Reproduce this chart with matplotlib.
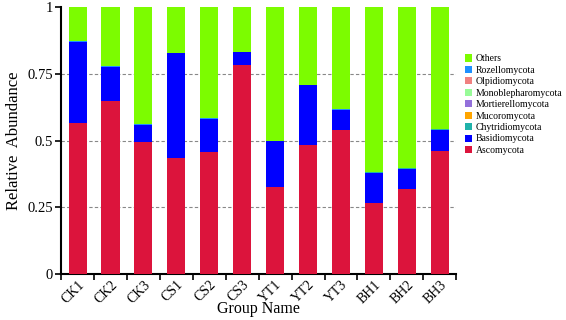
import matplotlib.pyplot as plt
import numpy as np

plt.rcParams['font.family'] = ['Liberation Serif', 'DejaVu Serif']

groups = ["CK1", "CK2", "CK3", "CS1", "CS2", "CS3", "YT1", "YT2", "YT3", "BH1", "BH2", "BH3"]

# relative abundance per phylum (bottom to top)
ascomycota = [0.565, 0.647, 0.495, 0.435, 0.459, 0.785, 0.325, 0.485, 0.541, 0.266, 0.319, 0.463]
basidiomycota = [0.305, 0.130, 0.064, 0.393, 0.123, 0.047, 0.173, 0.223, 0.074, 0.114, 0.076, 0.078]
chytridiomycota = [0.001] * 12
mucoromycota = [0.0] * 12
mortierellomycota = [0.0] * 12
monoblepharomycota = [0.0] * 12
olpidiomycota = [0.0] * 12
rozellomycota = [0.001] * 12

names = ["Ascomycota", "Basidiomycota", "Chytridiomycota", "Mucoromycota",
         "Mortierellomycota", "Monoblepharomycota", "Olpidiomycota", "Rozellomycota"]
series = [ascomycota, basidiomycota, chytridiomycota, mucoromycota,
          mortierellomycota, monoblepharomycota, olpidiomycota, rozellomycota]
others = 1 - np.sum(np.array(series), axis=0)
names.append("Others")
series.append(list(others))

colors = ["#DC143C", "#0000FF", "#20B2AA", "#FFA500", "#9370DB",
          "#98FB98", "#F08080", "#1E90FF", "#7CFC00"]

fig = plt.figure(figsize=(5.66, 3.2), dpi=100)
ax = fig.add_axes([0.108, 0.144, 0.698, 0.833])

x = np.arange(len(groups))
bottom = np.zeros(len(groups))
handles = []
for name, vals, c in zip(names, series, colors):
    b = ax.bar(x, vals, width=0.55, bottom=bottom, color=c, label=name, linewidth=0, zorder=3)
    bottom += np.array(vals)
    handles.append(b)

for yv in [0.25, 0.5, 0.75]:
    ax.axhline(yv, color="#888888", linestyle=(0, (3, 2)), linewidth=0.8, zorder=1)

ax.set_xlim(-0.5, 11.5)
ax.set_ylim(0, 1)
ax.set_yticks([0, 0.25, 0.5, 0.75, 1])
ax.set_yticklabels(["0", "0.25", "0.5", "0.75", "1"], fontsize=10.5)
ax.set_xticks(x)
ax.set_xticklabels(groups, rotation=45, ha="right", rotation_mode="anchor", fontsize=10)
ax.tick_params(axis="x", which="major", length=0, pad=3)
ax.set_xticks(np.arange(-0.5, 12, 1), minor=True)
ax.tick_params(axis="x", which="minor", length=4, width=1.2)
ax.tick_params(axis="y", length=4, width=1.2, pad=2)

for s in ["top", "right"]:
    ax.spines[s].set_visible(False)
for s in ["left", "bottom"]:
    ax.spines[s].set_linewidth(1.5)

fig.text(258 / 566, 1 - 309 / 320, "Group Name", fontsize=11.5, ha="center", va="center")
ax.set_ylabel("Relative  Abundance", fontsize=12)
ax.yaxis.set_label_coords(-0.1, 0.5)

leg = fig.legend(handles[::-1], names[::-1], loc="upper left", bbox_to_anchor=(0.815, 0.842),
                 frameon=False, fontsize=7, handlelength=0.75, handleheight=0.75,
                 handletextpad=0.35, labelspacing=0.25, borderaxespad=0)

plt.savefig("out.png", dpi=100)
